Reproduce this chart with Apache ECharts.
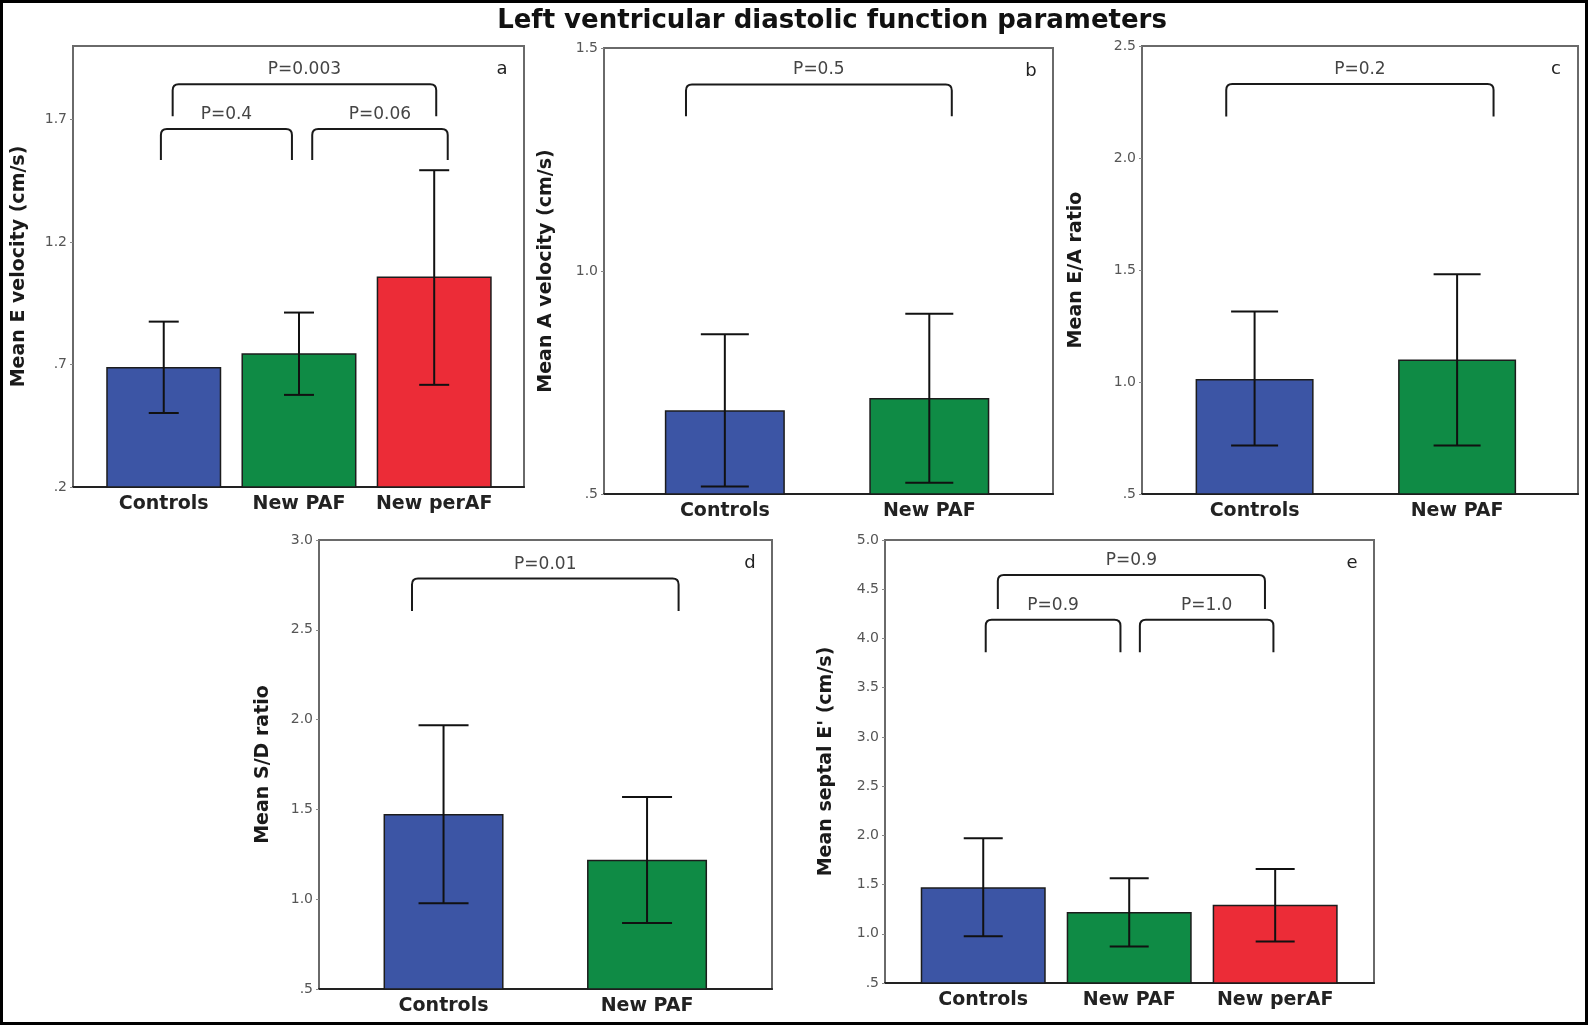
<!DOCTYPE html>
<html>
<head>
<meta charset="utf-8">
<title>Left ventricular diastolic function parameters</title>
<script src="https://cdn.jsdelivr.net/npm/echarts@6/dist/echarts.min.js"></script>
<style>
  html, body { margin: 0; padding: 0; background: #fff; }
  #chart { width: 1588px; height: 1025px; }
</style>
</head>
<body>
<div id="chart"></div>
<script>
// ---- data ----
const groups3 = ['Controls', 'New PAF', 'New perAF'];
const groups2 = ['Controls', 'New PAF'];
const groupColors = ['#3c55a5', '#0f8b45', '#ec2c37'];

// a: mean E velocity
const eVelMean = [0.690, 0.746, 1.059];
const eVelLow  = [0.502, 0.576, 0.617];
const eVelHigh = [0.875, 0.912, 1.493];
const eVelTicks = [0.2, 0.7, 1.2, 1.7];
const eVelBrackets = [[0.066, 2.015, 1.844, 1.713], [-0.021, 0.948, 1.661, 1.535], [1.098, 2.10, 1.661, 1.535]];
const eVelP = ['P=0.003', 'P=0.4', 'P=0.06'];

// b: mean A velocity
const aVelMean = [0.688, 0.715];
const aVelLow  = [0.517, 0.525];
const aVelHigh = [0.858, 0.904];
const aVelTicks = [0.5, 1.0, 1.5];
const aVelBrackets = [[-0.19, 1.11, 1.418, 1.347]];
const aVelP = ['P=0.5'];

// c: mean E/A ratio
const eaMean = [1.013, 1.100];
const eaLow  = [0.716, 0.717];
const eaHigh = [1.315, 1.481];
const eaTicks = [0.5, 1.0, 1.5, 2.0, 2.5];
const eaBrackets = [[-0.14, 1.18, 2.33, 2.185]];
const eaP = ['P=0.2'];

// d: mean S/D ratio
const sdMean = [1.474, 1.219];
const sdLow  = [0.978, 0.867];
const sdHigh = [1.969, 1.569];
const sdTicks = [0.5, 1.0, 1.5, 2.0, 2.5, 3.0];
const sdBrackets = [[-0.155, 1.155, 2.785, 2.605]];
const sdP = ['P=0.01'];

// e: mean septal E'
const septMean = [1.473, 1.220, 1.294];
const septLow  = [0.976, 0.872, 0.922];
const septHigh = [1.970, 1.564, 1.659];
const septTicks = [0.5, 1.0, 1.5, 2.0, 2.5, 3.0, 3.5, 4.0, 4.5, 5.0];
const septBrackets = [[0.10, 1.93, 4.645, 4.30], [0.017, 0.94, 4.19, 3.86], [1.073, 1.988, 4.19, 3.86]];
const septP = ['P=0.9', 'P=0.9', 'P=1.0'];

// ---- panel layout ----
const FONT = 'DejaVu Sans';
const panels = [
  { letter: 'a', grid: { left: 73, top: 46, width: 451, height: 441 }, xMin: -0.671, xMax: 2.664,
    yMin: 0.2, yMax: 2.0, ticks: eVelTicks, name: 'Mean E velocity (cm/s)', nameGap: 44,
    cats: groups3, mean: eVelMean, low: eVelLow, high: eVelHigh, barWidth: 115, cap: 30,
    brackets: eVelBrackets, pLabels: eVelP },
  { letter: 'b', grid: { left: 604, top: 48, width: 449, height: 446 }, xMin: -0.591, xMax: 1.605,
    yMin: 0.5, yMax: 1.5, ticks: aVelTicks, name: 'Mean A velocity (cm/s)', nameGap: 48,
    cats: groups2, mean: aVelMean, low: aVelLow, high: aVelHigh, barWidth: 120, cap: 48,
    brackets: aVelBrackets, pLabels: aVelP },
  { letter: 'c', grid: { left: 1142, top: 46, width: 436, height: 448 }, xMin: -0.556, xMax: 1.597,
    yMin: 0.5, yMax: 2.5, ticks: eaTicks, name: 'Mean E/A ratio', nameGap: 56,
    cats: groups2, mean: eaMean, low: eaLow, high: eaHigh, barWidth: 118, cap: 47,
    brackets: eaBrackets, pLabels: eaP },
  { letter: 'd', grid: { left: 319, top: 540, width: 453, height: 449 }, xMin: -0.612, xMax: 1.614,
    yMin: 0.5, yMax: 3.0, ticks: sdTicks, name: 'Mean S/D ratio', nameGap: 46,
    cats: groups2, mean: sdMean, low: sdLow, high: sdHigh, barWidth: 120, cap: 50,
    brackets: sdBrackets, pLabels: sdP },
  { letter: 'e', grid: { left: 885, top: 540, width: 489, height: 443 }, xMin: -0.673, xMax: 2.677,
    yMin: 0.5, yMax: 5.0, ticks: septTicks, name: "Mean septal E' (cm/s)", nameGap: 49,
    cats: groups3, mean: septMean, low: septLow, high: septHigh, barWidth: 125, cap: 39,
    brackets: septBrackets, pLabels: septP }
];

function tickText(v) {
  return v < 1 ? '.' + Math.round(v * 10) : v.toFixed(1);
}

const grids = [], xAxes = [], yAxes = [], series = [], graphics = [];

panels.forEach((p, i) => {
  grids.push(Object.assign({
    show: true, borderColor: '#6a6a6a', borderWidth: 2, backgroundColor: '#fff', containLabel: false
  }, p.grid));

  const catIdx = p.cats.map((c, k) => k);
  xAxes.push({
    type: 'value', gridIndex: i, min: p.xMin, max: p.xMax,
    axisLine: { show: true, onZero: false, lineStyle: { color: '#222', width: 2 } },
    axisTick: { show: false },
    splitLine: { show: false },
    axisLabel: {
      customValues: catIdx,
      formatter: v => p.cats[Math.round(v)] || '',
      fontFamily: FONT, fontWeight: 'bold', fontSize: 19, color: '#222',
      margin: 7, lineHeight: 20
    }
  });

  yAxes.push({
    type: 'value', gridIndex: i, min: p.yMin, max: p.yMax,
    name: p.name, nameLocation: 'middle', nameGap: p.nameGap, nameRotate: 90,
    nameTextStyle: { fontFamily: FONT, fontWeight: 'bold', fontSize: 19, color: '#1a1a1a' },
    axisLine: { show: true, onZero: false, lineStyle: { color: '#6a6a6a', width: 2 } },
    axisTick: { show: true, length: 3, customValues: p.ticks, lineStyle: { color: '#888', width: 1 } },
    splitLine: { show: false },
    axisLabel: {
      customValues: p.ticks, formatter: tickText,
      fontFamily: FONT, fontSize: 14, color: '#555', margin: 6
    }
  });

  // bars (group means)
  series.push({
    type: 'bar', xAxisIndex: i, yAxisIndex: i, barWidth: p.barWidth, clip: true,
    data: p.mean.map((v, k) => ({
      value: [k, v],
      itemStyle: { color: groupColors[k], borderColor: '#1c1c1c', borderWidth: 1.5 }
    })),
    silent: true, z: 2
  });

  // error bars
  series.push({
    type: 'custom', xAxisIndex: i, yAxisIndex: i, silent: true, z: 3,
    data: p.mean.map((v, k) => [k, p.low[k], p.high[k]]),
    renderItem: (params, api) => {
      const lo = api.coord([api.value(0), api.value(1)]);
      const hi = api.coord([api.value(0), api.value(2)]);
      const h = p.cap / 2;
      const st = { stroke: '#111', lineWidth: 2 };
      return { type: 'group', children: [
        { type: 'line', shape: { x1: lo[0], y1: lo[1], x2: hi[0], y2: hi[1] }, style: st },
        { type: 'line', shape: { x1: hi[0] - h, y1: hi[1], x2: hi[0] + h, y2: hi[1] }, style: st },
        { type: 'line', shape: { x1: lo[0] - h, y1: lo[1], x2: lo[0] + h, y2: lo[1] }, style: st }
      ] };
    }
  });

  // significance brackets with P values
  series.push({
    type: 'custom', xAxisIndex: i, yAxisIndex: i, silent: true, z: 4,
    data: p.brackets,
    renderItem: (params, api) => {
      const a = api.coord([api.value(0), api.value(2)]);
      const b = api.coord([api.value(1), api.value(2)]);
      const legY = api.coord([api.value(0), api.value(3)])[1];
      const r = 6;
      const d = 'M' + a[0] + ' ' + legY +
        ' L' + a[0] + ' ' + (a[1] + r) +
        ' Q' + a[0] + ' ' + a[1] + ' ' + (a[0] + r) + ' ' + a[1] +
        ' L' + (b[0] - r) + ' ' + b[1] +
        ' Q' + b[0] + ' ' + b[1] + ' ' + b[0] + ' ' + (b[1] + r) +
        ' L' + b[0] + ' ' + legY;
      return { type: 'group', children: [
        { type: 'path', shape: { pathData: d }, style: { fill: null, stroke: '#1a1a1a', lineWidth: 2 } },
        { type: 'text', x: (a[0] + b[0]) / 2, y: a[1] - 6,
          style: { text: p.pLabels[params.dataIndex], fontFamily: FONT, fontSize: 17, fill: '#444',
                   align: 'center', verticalAlign: 'bottom' } }
      ] };
    }
  });

  // panel letter
  graphics.push({
    type: 'text',
    x: p.grid.left + p.grid.width - 22, y: p.grid.top + 23,
    style: { text: p.letter, fontFamily: FONT, fontSize: 18, fill: '#222', align: 'center', verticalAlign: 'middle' }
  });
});

// figure title and outer frame
graphics.push({
  type: 'text', x: 832, y: 21,
  style: { text: 'Left ventricular diastolic function parameters', fontFamily: FONT, fontWeight: 'bold',
           fontSize: 26, fill: '#111', align: 'center', verticalAlign: 'middle' }
});
graphics.push({
  type: 'rect', shape: { x: 0, y: 0, width: 1588, height: 1025 },
  style: { fill: null, stroke: '#000', lineWidth: 6 }, z: 100
});

const chart = echarts.init(document.getElementById('chart'), null, { renderer: 'canvas' });
chart.setOption({
  backgroundColor: '#fff',
  animation: false,
  grid: grids,
  xAxis: xAxes,
  yAxis: yAxes,
  series: series,
  graphic: graphics
});
</script>
</body>
</html>
